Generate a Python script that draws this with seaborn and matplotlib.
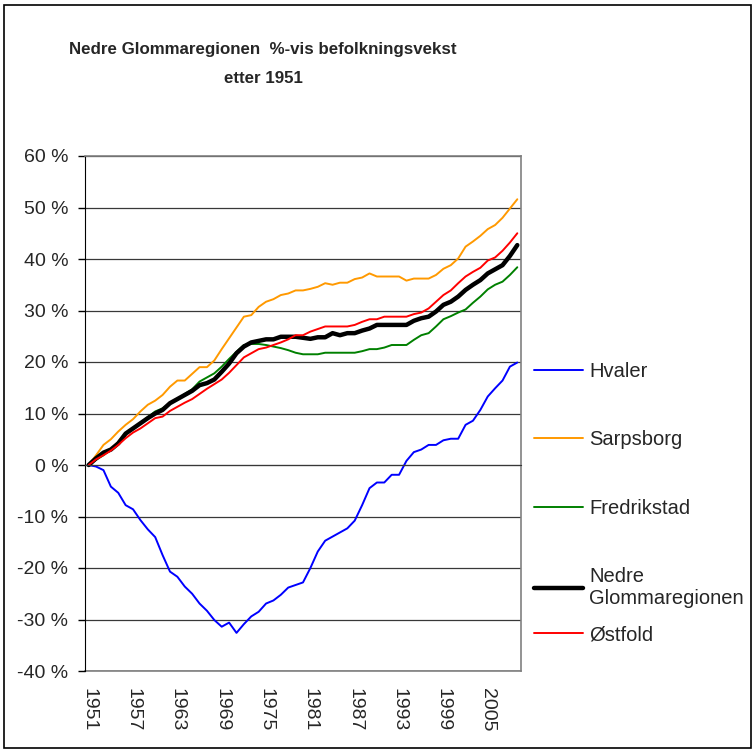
import numpy as np
import pandas as pd
import matplotlib
matplotlib.use("Agg")
import matplotlib.pyplot as plt
import seaborn as sns
from matplotlib.patches import Rectangle

years = list(range(1951, 2010))

hvaler = [0, -0.3, -1.0, -4.2, -5.4, -7.8, -8.6, -10.7, -12.5, -14.0,
          -17.5, -20.7, -21.7, -23.6, -25.0, -26.9, -28.3, -30.1, -31.4, -30.6,
          -32.6, -30.9, -29.4, -28.5, -26.9, -26.3, -25.2, -23.8, -23.3, -22.8,
          -20.0, -16.8, -14.7, -13.9, -13.1, -12.3, -10.8, -7.8, -4.5, -3.4,
          -3.4, -1.9, -1.9, 0.8, 2.5, 3.0, 3.9, 3.9, 4.8, 5.1,
          5.1, 7.8, 8.6, 10.7, 13.3, 14.9, 16.4, 19.1, 19.9]

sarpsborg = [0, 1.9, 3.9, 5.0, 6.5, 7.8, 8.9, 10.4, 11.7, 12.5,
             13.6, 15.2, 16.4, 16.4, 17.7, 19.0, 19.0, 20.3, 22.5, 24.6,
             26.7, 28.8, 29.1, 30.7, 31.7, 32.2, 33.0, 33.3, 33.9, 33.9,
             34.2, 34.6, 35.3, 35.0, 35.4, 35.4, 36.1, 36.4, 37.2, 36.6,
             36.6, 36.6, 36.6, 35.8, 36.2, 36.2, 36.2, 36.9, 38.1, 38.8,
             40.1, 42.4, 43.4, 44.5, 45.8, 46.6, 48.0, 49.8, 51.6]

fredrikstad = [0, 1.0, 1.9, 3.0, 4.5, 6.1, 7.1, 8.1, 9.3, 10.4,
               11.0, 12.0, 12.8, 13.8, 14.7, 16.2, 17.0, 17.8, 19.1, 20.6,
               22.0, 23.3, 23.5, 23.5, 23.3, 23.0, 22.7, 22.3, 21.8, 21.5,
               21.5, 21.5, 21.8, 21.8, 21.8, 21.8, 21.8, 22.1, 22.5, 22.5,
               22.8, 23.3, 23.3, 23.3, 24.3, 25.2, 25.6, 26.9, 28.3, 28.9,
               29.6, 30.2, 31.5, 32.7, 34.1, 35.0, 35.6, 36.9, 38.4]

nedre = [0, 1.3, 2.4, 3.0, 4.2, 6.1, 7.1, 8.1, 9.1, 10.0,
         10.7, 12.0, 12.8, 13.6, 14.4, 15.5, 15.9, 16.6, 18.1, 19.7,
         21.7, 23.0, 23.8, 24.1, 24.4, 24.4, 24.9, 24.9, 24.9, 24.7,
         24.5, 24.8, 24.8, 25.6, 25.2, 25.6, 25.6, 26.1, 26.5, 27.2,
         27.2, 27.2, 27.2, 27.2, 28.0, 28.5, 28.8, 29.8, 31.1, 31.7,
         32.7, 34.0, 35.0, 35.9, 37.2, 38.0, 38.8, 40.6, 42.7]

ostfold = [0, 1.1, 1.9, 2.8, 3.9, 5.2, 6.3, 7.1, 8.1, 9.1,
           9.4, 10.5, 11.3, 12.1, 12.8, 13.8, 14.8, 15.7, 16.6, 17.9,
           19.4, 20.9, 21.7, 22.5, 22.8, 23.3, 23.8, 24.4, 25.2, 25.2,
           25.9, 26.4, 26.9, 26.9, 26.9, 26.9, 27.2, 27.8, 28.3, 28.3,
           28.8, 28.8, 28.8, 28.8, 29.3, 29.6, 30.4, 31.7, 33.0, 33.9,
           35.3, 36.6, 37.5, 38.3, 39.7, 40.3, 41.6, 43.2, 45.0]

series = [("Hvaler", hvaler, "#0000FF", 1.4),
          ("Sarpsborg", sarpsborg, "#FF9900", 1.4),
          ("Fredrikstad", fredrikstad, "#008000", 1.4),
          ("Nedre\nGlommaregionen", nedre, "#000000", 3.2),
          ("Østfold", ostfold, "#FF0000", 1.4)]

sns.set_style("white")
plt.rcParams["font.family"] = ["Liberation Sans", "DejaVu Sans"]

fig = plt.figure(figsize=(7.56, 7.53), dpi=100)
ax = fig.add_axes([85/756, 1 - 671/753, (521-85)/756, (671-156)/753])

idx = np.arange(len(years))
for name, vals, col, lw in series:
    sns.lineplot(x=idx, y=vals, color=col, linewidth=lw, label=name, ax=ax)

ax.set_xlim(-0.5, len(years) - 0.5)
ax.set_ylim(-40, 60)
ax.set_yticks(range(-40, 61, 10))
ax.set_yticklabels([f"{v} %" for v in range(-40, 61, 10)], fontsize=14)
ax.yaxis.grid(True, color="#383838", linewidth=0.9)
ax.set_axisbelow(True)
ax.tick_params(axis="y", direction="out", length=5, width=1, color="black", pad=7, left=True)

# category axis crosses at 0
ax.spines["bottom"].set_position(("data", 0))
ax.spines["bottom"].set_color("#383838")
ax.set_xticks([])
ax.set_xticks(np.arange(-0.5, len(years)), minor=True)
ax.tick_params(axis="x", which="minor", direction="out", length=5, width=1, color="#404040")
ax.spines["left"].set_color("black")
for s in ["top", "right"]:
    ax.spines[s].set_color("#808080")
    ax.spines[s].set_linewidth(1.2)

sec = ax.secondary_xaxis("bottom")
sec.set_xticks(idx[::6])
sec.set_xticklabels([str(y) for y in years[::6]], rotation=-90, fontsize=14)
sec.tick_params(length=0, pad=12)
sec.spines["bottom"].set_color("#808080")
sec.spines["bottom"].set_linewidth(1.2)

ax.set_xlabel("")
ax.set_ylabel("")

handles, labels = ax.get_legend_handles_labels()
leg_kw = dict(bbox_transform=fig.transFigure, frameon=False, fontsize=14.5,
              handlelength=2.45, handletextpad=0.3, labelspacing=2.45,
              borderpad=0, borderaxespad=0)
leg1 = ax.legend(handles[:4], labels[:4], loc="upper left",
                 bbox_to_anchor=(534/756, 1 - 362/753), **leg_kw)
ax.add_artist(leg1)
ax.legend(handles[4:], labels[4:], loc="center left",
          bbox_to_anchor=(534/756, 1 - 635/753), **leg_kw)

fig.text(263/756, 1 - 64/753, "Nedre Glommaregionen  %-vis befolkningsvekst\netter 1951",
         ha="center", va="center", fontsize=12.2, fontweight="bold", linespacing=2.1,
         family=["Liberation Sans", "DejaVu Sans"])

fig.patches.append(Rectangle((4/756, 5/753), 747/756, 743/753, transform=fig.transFigure,
                             fill=False, edgecolor="black", linewidth=1.2))

fig.savefig("out.png", dpi=100)
